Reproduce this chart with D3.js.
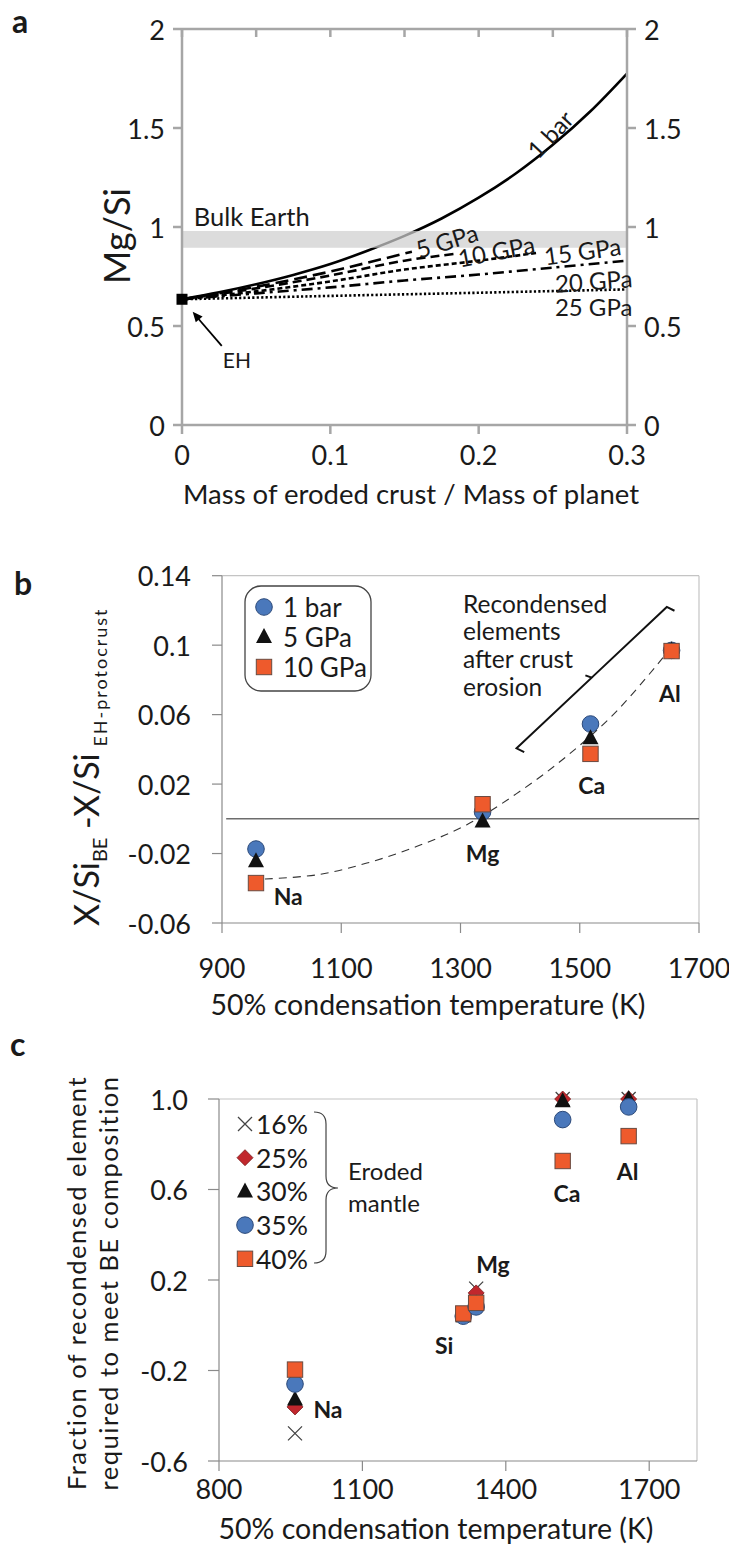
<!DOCTYPE html>
<html><head><meta charset="utf-8">
<script src="https://cdn.jsdelivr.net/npm/d3@7"></script>
<style>
body{margin:0;background:#fff}
svg{display:block}
text{font-family:Lato,'Open Sans',sans-serif;fill:#1a1a1a}
</style>
</head><body>
<svg id="c" width="729" height="1557"></svg>
<script>
// ---------- Panel a data ----------
const aTicksX = [0, 0.1, 0.2, 0.3];
const aTicksY = [0, 0.5, 1, 1.5, 2];
const aTickLabelsY = ["0", "0.5", "1", "1.5", "2"];
const aTickLabelsX = ["0", "0.1", "0.2", "0.3"];
const a1barX = [0,0.025,0.05,0.075,0.1,0.125,0.15,0.175,0.2,0.225,0.25,0.275,0.3];
const a1bar  = [0.635,0.670,0.711,0.758,0.813,0.880,0.955,1.043,1.148,1.270,1.415,1.582,1.775];
const a5X  = [0,0.025,0.05,0.075,0.1,0.125,0.155];
const a5   = [0.635,0.665,0.698,0.735,0.775,0.82,0.875];
const a10X = [0,0.05,0.1,0.15,0.185];
const a10  = [0.635,0.69,0.755,0.83,0.865];
const a15X = [0,0.05,0.1,0.15,0.2,0.24];
const a15  = [0.635,0.675,0.725,0.785,0.83,0.87];
const a20X = [0,0.05,0.1,0.15,0.2,0.25,0.3];
const a20  = [0.635,0.665,0.695,0.73,0.76,0.795,0.83];
const a25X = [0,0.1,0.2,0.3];
const a25  = [0.635,0.652,0.668,0.685];
const aBulkEarth = [0.895, 0.98];
const aEH = [0, 0.635];

// ---------- Panel b data ----------
const bElements = ["Na", "Mg", "Ca", "Al"];
const bTemps = [957, 1337, 1518, 1654];
const b1bar = [-0.0174, 0.004, 0.0546, 0.097];
const b5GPa = [-0.0245, -0.0015, 0.0464, 0.097];
const b10GPa = [-0.037, 0.0084, 0.0374, 0.0966];
const bFitT = [972, 1060, 1143, 1226, 1310, 1394, 1478, 1562, 1640];
const bFitV = [-0.0347, -0.0322, -0.0255, -0.016, -0.0035, 0.0145, 0.036, 0.062, 0.093];
const bTicksX = [900, 1100, 1300, 1500, 1700];
const bTicksY = [0.14, 0.1, 0.06, 0.02, -0.02, -0.06];
const bTickLabelsY = ["0.14", "0.1", "0.06", "0.02", "-0.02", "-0.06"];

// ---------- Panel c data ----------
const cElements = ["Na", "Si", "Mg", "Ca", "Al"];
const cTemps = [959, 1311, 1338, 1519, 1657];
const c16 = [-0.478, 0.045, 0.162, 1.0, 1.0];
const c25 = [-0.361, 0.045, 0.143, 1.0, 1.0];
const c30 = [-0.328, 0.04, 0.095, 0.99, 1.0];
const c35 = [-0.26, 0.04, 0.081, 0.909, 0.965];
const c40 = [-0.196, 0.052, 0.099, 0.726, 0.836];
const cTicksX = [800, 1100, 1400, 1700];
const cTicksY = [1.0, 0.6, 0.2, -0.2, -0.6];
const cTickLabelsY = ["1.0", "0.6", "0.2", "-0.2", "-0.6"];

const svg = d3.select("#c");

// ---------- marker helper ----------
const COL = {
  blue: "#4a78bb", blueS: "#2c4a7a",
  orange: "#ee5a2c", orangeS: "#6a4a40",
  red: "#c1272d", redS: "#7a1a1a",
  black: "#111"
};
function marker(g, type, x, y) {
  if (type === "circle") {
    g.append("circle").attr("cx", x).attr("cy", y).attr("r", 8.3)
      .attr("fill", COL.blue).attr("stroke", COL.blueS).attr("stroke-width", 1);
  } else if (type === "square") {
    g.append("rect").attr("x", x - 7.7).attr("y", y - 7.7).attr("width", 15.4).attr("height", 15.4)
      .attr("fill", COL.orange).attr("stroke", COL.orangeS).attr("stroke-width", 1);
  } else if (type === "triangle") {
    g.append("path").attr("d", `M${x},${y - 9}L${x + 8},${y + 6}L${x - 8},${y + 6}Z`)
      .attr("fill", COL.black);
  } else if (type === "diamond") {
    g.append("path").attr("d", `M${x},${y - 8}L${x + 8},${y}L${x},${y + 8}L${x - 8},${y}Z`)
      .attr("fill", COL.red).attr("stroke", COL.redS).attr("stroke-width", 0.8);
  } else if (type === "x") {
    g.append("path").attr("d", `M${x - 7},${y - 7}L${x + 7},${y + 7}M${x - 7},${y + 7}L${x + 7},${y - 7}`)
      .attr("stroke", "#444").attr("stroke-width", 1.3).attr("fill", "none");
  }
}

// =============== PANEL A ===============
{
  const x = d3.scaleLinear().domain([0, 0.3]).range([182, 627]);
  const y = d3.scaleLinear().domain([0, 2]).range([425, 29]);
  const g = svg.append("g");
  const axCol = "#a6a6a6";

  const line = d3.line().x(d => x(d[0])).y(d => y(d[1])).curve(d3.curveCatmullRom);
  const series = [
    { X: a1barX, V: a1bar, dash: null },
    { X: a5X, V: a5, dash: "13,6" },
    { X: a10X, V: a10, dash: "9,5" },
    { X: a15X, V: a15, dash: "5,3" },
    { X: a20X, V: a20, dash: "11,5,3,5" },
    { X: a25X, V: a25, dash: "2.2,2.2" }
  ];
  series.forEach(s => {
    g.append("path").datum(s.X.map((v, i) => [v, s.V[i]]))
      .attr("d", line).attr("fill", "none").attr("stroke", "#000")
      .attr("stroke-width", 2.6).attr("stroke-dasharray", s.dash);
  });

  g.append("rect").attr("x", x(0)).attr("width", x(0.3) - x(0))
    .attr("y", y(aBulkEarth[1])).attr("height", y(aBulkEarth[0]) - y(aBulkEarth[1]))
    .attr("fill", "#cfcfcf").attr("opacity", 0.72);

  const ln = (x1, y1, x2, y2) => g.append("line").attr("x1", x1).attr("y1", y1).attr("x2", x2).attr("y2", y2)
    .attr("stroke", axCol).attr("stroke-width", 2.5);
  ln(x(0), y(2), x(0.3), y(2));
  ln(x(0), y(0), x(0.3), y(0));
  ln(x(0), y(0), x(0), y(2));
  ln(x(0.3), y(0), x(0.3), y(2));
  aTicksY.forEach((t, i) => {
    ln(x(0) - 9, y(t), x(0), y(t));
    ln(x(0.3), y(t), x(0.3) + 9, y(t));
    g.append("text").attr("x", x(0) - 17).attr("y", y(t)).attr("text-anchor", "end").attr("dominant-baseline", "central")
      .attr("font-size", 27).text(aTickLabelsY[i]);
    g.append("text").attr("x", x(0.3) + 17).attr("y", y(t)).attr("text-anchor", "start").attr("dominant-baseline", "central")
      .attr("font-size", 27).text(aTickLabelsY[i]);
  });
  aTicksX.forEach((t, i) => {
    ln(x(t), y(0), x(t), y(0) + 9);
    g.append("text").attr("x", x(t)).attr("y", y(0) + 29).attr("text-anchor", "middle").attr("dominant-baseline", "central")
      .attr("font-size", 27).text(aTickLabelsX[i]);
  });
  d3.range(0, 7).forEach(k => {
    const t = k * 0.05;
    ln(x(t), y(2), x(t), y(2) + 8);
  });

  g.append("rect").attr("x", x(aEH[0]) - 5.5).attr("y", y(aEH[1]) - 5.5).attr("width", 11).attr("height", 11).attr("fill", "#000");
  const ax1 = x(0.0268), ay1 = y(0.40), ax2 = x(0.0072), ay2 = y(0.572);
  g.append("line").attr("x1", ax1).attr("y1", ay1).attr("x2", ax2 + 4).attr("y2", ay2 + 5).attr("stroke", "#000").attr("stroke-width", 1.8);
  const ang = Math.atan2(ay2 - ay1, ax2 - ax1);
  const hl = 10, hw = 4.5;
  const bx = ax2 - hl * Math.cos(ang), by = ay2 - hl * Math.sin(ang);
  g.append("path").attr("d", `M${ax2},${ay2}L${bx + hw * Math.sin(ang)},${by - hw * Math.cos(ang)}L${bx - hw * Math.sin(ang)},${by + hw * Math.cos(ang)}Z`).attr("fill", "#000");
  g.append("text").attr("x", x(0.037)).attr("y", y(0.33)).attr("text-anchor", "middle").attr("dominant-baseline", "central").attr("font-size", 21).text("EH");

  g.append("text").attr("x", x(0.008)).attr("y", y(1.055)).attr("dominant-baseline", "central").attr("font-size", 25.5).text("Bulk Earth");
  const lab = [
    ["1 bar", 0.2480, 1.470, -47],
    ["5 GPa", 0.1785, 0.932, -17],
    ["10 GPa", 0.2119, 0.880, -11],
    ["15 GPa", 0.2700, 0.880, -8],
    ["20 GPa", 0.2775, 0.730, -4],
    ["25 GPa", 0.2775, 0.600, 0]
  ];
  lab.forEach(l => {
    g.append("text").attr("transform", `translate(${x(l[1])},${y(l[2])}) rotate(${l[3]})`)
      .attr("text-anchor", "middle").attr("dominant-baseline", "central").attr("font-size", 24).text(l[0]);
  });

  g.append("text").attr("transform", `translate(116,236) rotate(-90)`).attr("text-anchor", "middle")
    .attr("dominant-baseline", "central").attr("font-size", 36).text("Mg/Si");
  g.append("text").attr("x", 411).attr("y", 493).attr("text-anchor", "middle").attr("dominant-baseline", "central")
    .attr("font-size", 27.5).text("Mass of eroded crust / Mass of planet");
  g.append("text").attr("x", 12).attr("y", 20).attr("dominant-baseline", "central").attr("font-size", 32).attr("font-weight", 700).text("a");
}

// =============== PANEL B ===============
{
  const x = d3.scaleLinear().domain([900, 1700]).range([222, 699]);
  const y = d3.scaleLinear().domain([-0.06, 0.14]).range([923, 575.7]);
  const g = svg.append("g");
  const frame = "#c4c4c4", axis = "#8a8a8a";
  const ln = (x1, y1, x2, y2, c) => g.append("line").attr("x1", x1).attr("y1", y1).attr("x2", x2).attr("y2", y2)
    .attr("stroke", c).attr("stroke-width", 1.2);
  ln(x(900), y(0.14), x(1700), y(0.14), frame);
  ln(x(1700), y(0.14), x(1700), y(-0.06), frame);
  ln(x(900), y(0.14), x(900), y(-0.06), axis);
  ln(x(900), y(-0.06), x(1700), y(-0.06), axis);
  bTicksY.forEach((t, i) => {
    ln(x(900) - 10, y(t), x(900), y(t), axis);
    g.append("text").attr("x", 191).attr("y", y(t)).attr("text-anchor", "end").attr("dominant-baseline", "central").attr("font-size", 27).text(bTickLabelsY[i]);
  });
  bTicksX.forEach(t => {
    ln(x(t), y(-0.06), x(t), y(-0.06) + 10, axis);
    g.append("text").attr("x", x(t)).attr("y", 967).attr("text-anchor", "middle").attr("dominant-baseline", "central").attr("font-size", 27).text(t);
  });
  g.append("line").attr("x1", x(907)).attr("x2", x(1700)).attr("y1", y(0)).attr("y2", y(0)).attr("stroke", "#6d6d6d").attr("stroke-width", 1.6);
  const line = d3.line().x(d => x(d[0])).y(d => y(d[1])).curve(d3.curveCatmullRom);
  g.append("path").datum(bFitT.map((t, i) => [t, bFitV[i]])).attr("d", line).attr("fill", "none")
    .attr("stroke", "#333").attr("stroke-width", 1.1).attr("stroke-dasharray", "8,6");
  bTemps.forEach((t, i) => {
    marker(g, "circle", x(t), y(b1bar[i]));
    marker(g, "triangle", x(t), y(b5GPa[i]));
    marker(g, "square", x(t), y(b10GPa[i]));
  });
  const bLabT = [1011, 1337, 1520, 1651];
  const bLabV = [-0.0443, -0.0197, 0.0195, 0.0722];
  bElements.forEach((e, i) => {
    g.append("text").attr("x", x(bLabT[i])).attr("y", y(bLabV[i])).attr("text-anchor", "middle").attr("dominant-baseline", "central")
      .attr("font-size", 23).attr("font-weight", 700).text(e);
  });
  g.append("rect").attr("x", 245).attr("y", 586).attr("width", 126).attr("height", 105).attr("rx", 16)
    .attr("fill", "#fff").attr("stroke", "#444").attr("stroke-width", 1.3);
  const legItems = [["circle", "1 bar"], ["triangle", "5 GPa"], ["square", "10 GPa"]];
  legItems.forEach((it, i) => {
    const yy = 607 + i * 30;
    marker(g, it[0], 264, yy);
    g.append("text").attr("x", 283).attr("y", yy).attr("dominant-baseline", "central").attr("font-size", 26).text(it[1]);
  });
  const A = [x(1394), y(0.0406)], B = [x(1646), y(0.122)];
  const dx = B[0] - A[0], dy = B[1] - A[1], L = Math.hypot(dx, dy);
  const u = [dx / L, dy / L], n = [-u[1], u[0]];
  const nn = n[1] > 0 ? n : [-n[0], -n[1]];
  const M = [(A[0] + B[0]) / 2, (A[1] + B[1]) / 2];
  const h = 8;
  const p = d3.path();
  p.moveTo(A[0] + nn[0] * h + u[0] * 3, A[1] + nn[1] * h + u[1] * 3);
  p.lineTo(A[0], A[1]);
  p.lineTo(M[0], M[1]);
  p.lineTo(M[0] - nn[0] * 6 - u[0] * 3, M[1] - nn[1] * 6 - u[1] * 3);
  p.moveTo(M[0], M[1]);
  p.lineTo(B[0], B[1]);
  p.lineTo(B[0] + nn[0] * h + u[0] * 3, B[1] + nn[1] * h + u[1] * 3);
  g.append("path").attr("d", p.toString()).attr("fill", "none").attr("stroke", "#111").attr("stroke-width", 2);
  const annot = ["Recondensed", "elements", "after crust", "erosion"];
  annot.forEach((s, i) => {
    g.append("text").attr("x", 463).attr("y", 603 + i * 27.8).attr("dominant-baseline", "central").attr("font-size", 24.5).text(s);
  });
  const yt = g.append("text").attr("transform", "translate(99,926) rotate(-90)").attr("font-size", 34);
  yt.append("tspan").text("X/Si");
  yt.append("tspan").attr("font-size", 20).attr("dy", 8).text("BE");
  yt.append("tspan").attr("dy", -8).text(" -X/Si");
  yt.append("tspan").attr("font-size", 18).attr("dy", 8).attr("letter-spacing", 2).text(" EH-protocrust");
  g.append("text").attr("x", 428).attr("y", 1004).attr("text-anchor", "middle").attr("dominant-baseline", "central")
    .attr("font-size", 28.5).text("50% condensation temperature (K)");
  g.append("text").attr("x", 14).attr("y", 582).attr("dominant-baseline", "central").attr("font-size", 32).attr("font-weight", 700).text("b");
}

// =============== PANEL C ===============
{
  const x = d3.scaleLinear().domain([800, 1800]).range([219, 697]);
  const y = d3.scaleLinear().domain([-0.6, 1.0]).range([1461, 1099]);
  const g = svg.append("g");
  const frame = "#c4c4c4", axis = "#8a8a8a";
  const ln = (x1, y1, x2, y2, c) => g.append("line").attr("x1", x1).attr("y1", y1).attr("x2", x2).attr("y2", y2)
    .attr("stroke", c).attr("stroke-width", 1.2);
  ln(x(800), y(1), x(1800), y(1), frame);
  ln(x(1800), y(1), x(1800), y(-0.6), frame);
  ln(x(800), y(1), x(800), y(-0.6), axis);
  ln(x(800), y(-0.6), x(1800), y(-0.6), axis);
  cTicksY.forEach((t, i) => {
    ln(x(800) - 11, y(t), x(800), y(t), axis);
    g.append("text").attr("x", 188).attr("y", y(t)).attr("text-anchor", "end").attr("dominant-baseline", "central").attr("font-size", 27).text(cTickLabelsY[i]);
  });
  cTicksX.forEach(t => {
    ln(x(t), y(-0.6), x(t), y(-0.6) + 10, axis);
    g.append("text").attr("x", x(t)).attr("y", 1488).attr("text-anchor", "middle").attr("dominant-baseline", "central").attr("font-size", 27).text(t);
  });
  cTemps.forEach((t, i) => {
    marker(g, "x", x(t), y(c16[i]));
    marker(g, "diamond", x(t), y(c25[i]));
    marker(g, "triangle", x(t), y(c30[i]));
    marker(g, "circle", x(t), y(c35[i]));
    marker(g, "square", x(t), y(c40[i]));
  });
  const cLabT = [1028, 1271, 1373, 1528, 1655];
  const cLabV = [-0.370, -0.087, 0.271, 0.583, 0.682];
  cElements.forEach((e, i) => {
    g.append("text").attr("x", x(cLabT[i])).attr("y", y(cLabV[i])).attr("text-anchor", "middle").attr("dominant-baseline", "central")
      .attr("font-size", 23).attr("font-weight", 700).text(e);
  });
  const leg = [["x", "16%"], ["diamond", "25%"], ["triangle", "30%"], ["circle", "35%"], ["square", "40%"]];
  leg.forEach((it, i) => {
    const yy = 1124 + i * 33.7;
    marker(g, it[0], 245, yy);
    g.append("text").attr("x", 256).attr("y", yy).attr("dominant-baseline", "central").attr("font-size", 26.5).text(it[1]);
  });
  g.append("path").attr("d", "M314,1112 Q326,1112 326,1124 L326,1176 Q326,1188 338,1188 Q326,1188 326,1200 L326,1251 Q326,1263 314,1263")
    .attr("fill", "none").attr("stroke", "#444").attr("stroke-width", 1.2);
  g.append("text").attr("x", 348).attr("y", 1170).attr("dominant-baseline", "central").attr("font-size", 24).text("Eroded");
  g.append("text").attr("x", 348).attr("y", 1202).attr("dominant-baseline", "central").attr("font-size", 24).text("mantle");
  g.append("text").attr("transform", `translate(86,1283) rotate(-90)`).attr("text-anchor", "middle")
    .attr("font-size", 25.5).attr("letter-spacing", 1.5).text("Fraction of recondensed element");
  g.append("text").attr("transform", `translate(118,1283) rotate(-90)`).attr("text-anchor", "middle")
    .attr("font-size", 25.5).attr("letter-spacing", 1.5).text("required to meet BE composition");
  g.append("text").attr("x", 436).attr("y", 1528).attr("text-anchor", "middle").attr("dominant-baseline", "central")
    .attr("font-size", 28.5).text("50% condensation temperature (K)");
  g.append("text").attr("x", 10).attr("y", 1043).attr("dominant-baseline", "central").attr("font-size", 32).attr("font-weight", 700).text("c");
}
</script>
</body></html>
